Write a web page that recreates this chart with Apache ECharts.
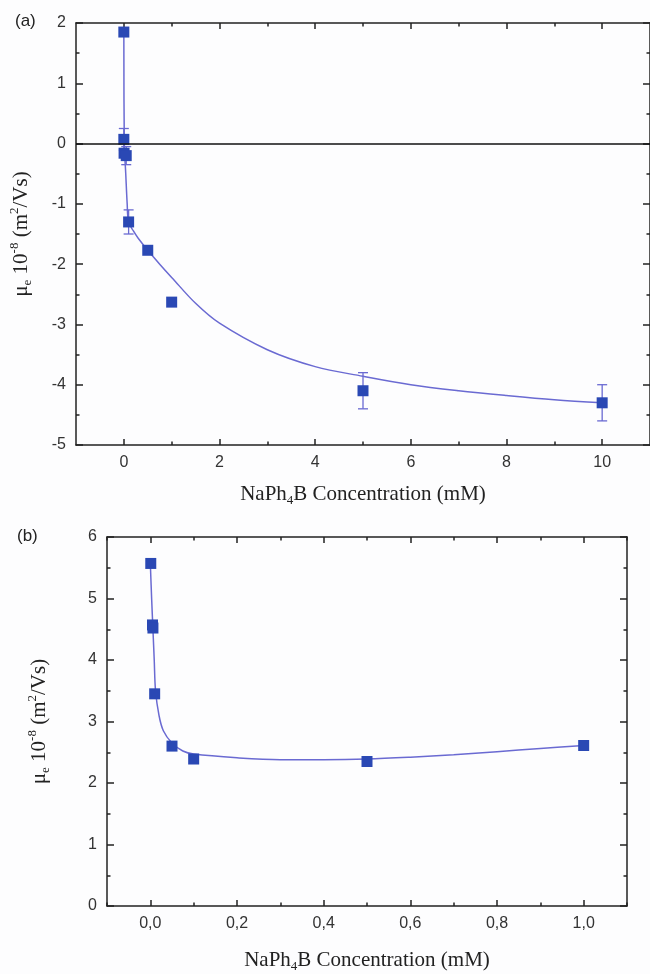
<!DOCTYPE html>
<html>
<head>
<meta charset="utf-8">
<script src="https://cdn.jsdelivr.net/npm/echarts@6/dist/echarts.min.js"></script>
<style>
  html, body { margin: 0; padding: 0; background: #fff; }
  #main { width: 650px; height: 974px; }
</style>
</head>
<body>
<div id="main"></div>
<script>
// (a) measured points, error bars, fitted curve
var topX = [0, 0, 0.005, 0.05, 0.1, 0.5, 1, 5, 10];
var topY = [1.85, 0.07, -0.16, -0.2, -1.3, -1.77, -2.63, -4.1, -4.3];
var topErr = [0, 0.18, 0, 0.15, 0.2, 0, 0, 0.3, 0.3];
var topFitX = [0, 0.01, 0.04, 0.07, 0.1, 0.2, 0.3, 0.5, 0.75, 1, 1.5, 2, 3, 4, 5, 6, 7, 8, 9, 10];
var topFitY = [1.85, 0, -0.5, -1.0, -1.3, -1.45, -1.57, -1.77, -2.0, -2.22, -2.65, -2.98, -3.42, -3.7, -3.86, -4.0, -4.1, -4.18, -4.25, -4.3];
var topXTicks = [0, 2, 4, 6, 8, 10];
var topXMinor = [1, 3, 5, 7, 9];

// (b)
var botX = [0.001, 0.005, 0.006, 0.01, 0.05, 0.1, 0.5, 1.0];
var botY = [5.57, 4.57, 4.52, 3.45, 2.6, 2.39, 2.35, 2.61];
var botFitX = [0, 0.003, 0.006, 0.009, 0.012, 0.02, 0.03, 0.05, 0.075, 0.1, 0.2, 0.3, 0.4, 0.5, 0.6, 0.7, 0.8, 0.9, 1.0];
var botFitY = [5.57, 5.0, 4.5, 4.0, 3.5, 3.1, 2.85, 2.65, 2.52, 2.47, 2.41, 2.38, 2.38, 2.39, 2.42, 2.46, 2.51, 2.56, 2.61];
var botXTicks = [0, 0.2, 0.4, 0.6, 0.8, 1.0];
var botXMinor = [-0.1, 0.1, 0.3, 0.5, 0.7, 0.9, 1.1];

var AXIS = "#222";
var LINE = "#6a6ad2";
var MARK = "#2a48b4";
var SANS = "Liberation Sans, Arial, sans-serif";
var SERIF = "Liberation Serif, Times New Roman, serif";

var richTitle = {
  t: { fontFamily: SERIF, fontSize: 21, color: "#222", lineHeight: 26, verticalAlign: "middle" },
  sp: { fontFamily: SERIF, fontSize: 13, color: "#222", lineHeight: 14, verticalAlign: "top" },
  sb: { fontFamily: SERIF, fontSize: 13, color: "#222", lineHeight: 14, verticalAlign: "bottom" },
};
var yTitle = "{t|μ}{sb|e}{t| 10}{sp|-8}{t| (m}{sp|2}{t|/Vs)}";
var xTitle = "{t|NaPh}{sb|4}{t|B Concentration (mM)}";

function zip(a, b) {
  return a.map(function (v, i) { return [v, b[i]]; });
}

// 4 x axes for one grid: bottom (labels), bottom minor ticks, top, top minor
function makeX(grid, min, max, major, minor, fmt, gap) {
  var line = { show: true, onZero: false, lineStyle: { color: AXIS, width: 1.5 } };
  var base = { type: "value", gridIndex: grid, min: min, max: max, splitLine: { show: false } };
  return [
    Object.assign({}, base, {
      position: "bottom", axisLine: line,
      axisTick: { inside: true, length: 6, customValues: major, lineStyle: { color: AXIS, width: 1.5 } },
      axisLabel: { customValues: major, formatter: fmt, fontFamily: SANS, fontSize: 16, color: "#333", margin: 10 },
      name: xTitle, nameLocation: "middle", nameGap: gap,
      nameTextStyle: { rich: richTitle },
    }),
    Object.assign({}, base, {
      position: "bottom", axisLine: { show: false, onZero: false },
      axisTick: { inside: true, length: 3.5, customValues: minor, lineStyle: { color: AXIS, width: 1.5 } },
      axisLabel: { show: false },
    }),
    Object.assign({}, base, {
      position: "top", axisLine: line,
      axisTick: { inside: true, length: 6, customValues: major, lineStyle: { color: AXIS, width: 1.5 } },
      axisLabel: { show: false },
    }),
    Object.assign({}, base, {
      position: "top", axisLine: { show: false, onZero: false },
      axisTick: { inside: true, length: 3.5, customValues: minor, lineStyle: { color: AXIS, width: 1.5 } },
      axisLabel: { show: false },
    }),
  ];
}

function makeY(grid, min, max, gap) {
  var base = {
    type: "value", gridIndex: grid, min: min, max: max, interval: 1,
    splitLine: { show: false },
    axisLine: { show: true, onZero: false, lineStyle: { color: AXIS, width: 1.5 } },
    axisTick: { inside: true, length: 7, lineStyle: { color: AXIS, width: 1.5 } },
    minorTick: { show: true, splitNumber: 2, length: 3.5, lineStyle: { color: AXIS, width: 1.5 } },
  };
  return [
    Object.assign({}, base, {
      position: "left",
      axisLabel: { fontFamily: SANS, fontSize: 16, color: "#333", margin: 10 },
      name: yTitle, nameLocation: "middle", nameGap: gap, nameRotate: 90,
      nameTextStyle: { rich: richTitle },
    }),
    Object.assign({}, base, { position: "right", axisLabel: { show: false } }),
  ];
}

function errSeries(xi, yi, xs, ys, es) {
  var data = [];
  xs.forEach(function (x, i) { if (es[i] > 0) data.push([x, ys[i], es[i]]); });
  return {
    type: "custom", xAxisIndex: xi, yAxisIndex: yi, z: 3, silent: true,
    encode: { x: 0, y: 1 },
    data: data,
    renderItem: function (params, api) {
      var x = api.value(0), y = api.value(1), e = api.value(2);
      var hi = api.coord([x, y + e]);
      var lo = api.coord([x, y - e]);
      var w = 5;
      var st = { stroke: LINE, lineWidth: 1.3 };
      return {
        type: "group",
        children: [
          { type: "line", shape: { x1: hi[0], y1: hi[1], x2: lo[0], y2: lo[1] }, style: st },
          { type: "line", shape: { x1: hi[0] - w, y1: hi[1], x2: hi[0] + w, y2: hi[1] }, style: st },
          { type: "line", shape: { x1: lo[0] - w, y1: lo[1], x2: lo[0] + w, y2: lo[1] }, style: st },
        ],
      };
    },
  };
}

var chart = echarts.init(document.getElementById("main"));
var option = {
  backgroundColor: "#fdfdfe",
  animation: false,
  grid: [
    { left: 75, top: 23, width: 576, height: 422 },
    { left: 107, top: 537, width: 520, height: 381 },
  ],
  xAxis: makeX(0, -1, 11, topXTicks, topXMinor, function (v) { return String(v); }, 36)
    .concat(makeX(1, -0.1, 1.1, botXTicks, botXMinor, function (v) { return v.toFixed(1).replace(".", ","); }, 41)),
  yAxis: makeY(0, -5, 2, 42).concat(makeY(1, 0, 6, 55)),
  graphic: [
    { type: "text", left: 15, top: 13, style: { text: "(a)", font: "17px " + SANS, fill: "#222" } },
    { type: "text", left: 17, top: 528, style: { text: "(b)", font: "17px " + SANS, fill: "#222" } },
  ],
  series: [
    {
      type: "line", xAxisIndex: 0, yAxisIndex: 0, data: zip(topFitX, topFitY),
      smooth: 0.35, showSymbol: false, z: 2,
      lineStyle: { color: LINE, width: 1.5 },
      markLine: {
        silent: true, symbol: "none", label: { show: false },
        lineStyle: { color: "#111", width: 1.5, type: "solid" },
        data: [{ yAxis: 0 }],
      },
    },
    errSeries(0, 0, topX, topY, topErr),
    {
      type: "scatter", xAxisIndex: 0, yAxisIndex: 0, data: zip(topX, topY),
      symbol: "rect", symbolSize: 11, z: 4, itemStyle: { color: MARK, opacity: 1 },
    },
    {
      type: "line", xAxisIndex: 4, yAxisIndex: 2, data: zip(botFitX, botFitY),
      smooth: 0.35, showSymbol: false, z: 2,
      lineStyle: { color: LINE, width: 1.5 },
    },
    {
      type: "scatter", xAxisIndex: 4, yAxisIndex: 2, data: zip(botX, botY),
      symbol: "rect", symbolSize: 11, z: 4, itemStyle: { color: MARK, opacity: 1 },
    },
  ],
};
chart.setOption(option);
</script>
</body>
</html>
